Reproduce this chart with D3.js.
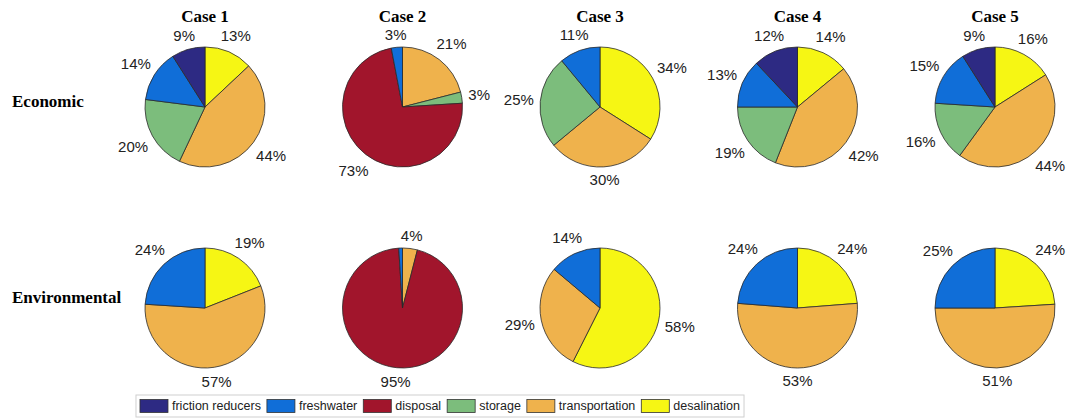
<!DOCTYPE html>
<html lang="en">
<head>
  <meta charset="utf-8" />
  <title>Pie charts by case</title>
  <style>
    body { margin: 0; background: #fff; }
    svg { display: block; }
  </style>
</head>
<body>
<script src="https://cdn.jsdelivr.net/npm/d3@7"></script>
<script>
  // Data
  var cases = ["Case 1", "Case 2", "Case 3", "Case 4", "Case 5"];
  var rows = ["Economic", "Environmental"];
  var categories = ["friction reducers", "freshwater", "disposal", "storage", "transportation", "desalination"];
  var colors = ["#2d2a83", "#106ed8", "#a1152c", "#7cbd7c", "#efb24c", "#f6f614"];

  // shares (%) per case, in category order
  var economic = [
    [9, 14, 0, 20, 44, 13],
    [0, 3, 73, 3, 21, 0],
    [0, 11, 0, 25, 30, 34],
    [12, 13, 0, 19, 42, 14],
    [9, 15, 0, 16, 44, 16]
  ];
  var environmental = [
    [0, 24, 0, 0, 57, 19],
    [0, 1, 95, 0, 4, 0],
    [0, 14, 0, 0, 29, 58],
    [0, 24, 0, 0, 53, 24],
    [0, 25, 0, 0, 51, 24]
  ];

  const width = 1070, height = 418;
  const radius = 60;

  var svg = d3.select("body").append("svg")
      .attr("width", width)
      .attr("height", height);

  let xScale = d3.scalePoint(cases, [205, 995]);
  let yScale = d3.scalePoint(rows, [107, 308]);
  let color = d3.scaleOrdinal(categories, colors);

  // slices go clockwise from 12 o'clock starting with the last category
  let pie = d3.pie().sort(null).value(d => d.value);
  let arc = d3.arc().innerRadius(0).outerRadius(radius);

  function drawPie(row, ci, values) {
    let items = categories.map((c, i) => ({cat: c, value: values[i]})).reverse()
        .filter(d => d.value > 0);
    let g = svg.append("g")
        .attr("transform", `translate(${xScale(cases[ci])}, ${yScale(row)})`);

    g.selectAll("path")
      .data(pie(items))
      .join("path")
      .attr("d", arc)
      .attr("fill", d => color(d.data.cat))
      .attr("stroke", "#2a2a2a")
      .attr("stroke-width", 0.8);

    // tiny slices (<2%) are left unlabelled, as in the original
    g.selectAll("text")
      .data(pie(items).filter(d => d.data.value >= 2))
      .join("text")
      .attr("font-family", "Liberation Sans, Arial, sans-serif")
      .attr("font-size", 15)
      .attr("fill", "#222")
      .attr("text-anchor", "middle")
      .attr("dominant-baseline", "central")
      .text(d => Math.round(d.data.value) + "%")
      .each(function (d) {
        let a = (d.startAngle + d.endAngle) / 2;
        let w = this.getComputedTextLength();
        let h = 12;
        let sx = Math.sin(a), sy = -Math.cos(a);
        let dist = radius * 1.1 + Math.abs(sx) * w / 2 + Math.abs(sy) * h / 2;
        d3.select(this).attr("x", sx * dist).attr("y", sy * dist);
      });
  }

  cases.forEach((c, i) => {
    drawPie("Economic", i, economic[i]);
    drawPie("Environmental", i, environmental[i]);
  });

  // case titles
  svg.append("g")
    .selectAll("text")
    .data(cases)
    .join("text")
    .attr("x", d => xScale(d))
    .attr("y", 22)
    .attr("text-anchor", "middle")
    .attr("font-family", "Liberation Serif, Times New Roman, serif")
    .attr("font-weight", "bold")
    .attr("font-size", 17)
    .text(d => d);

  // row labels
  svg.append("g")
    .selectAll("text")
    .data(rows)
    .join("text")
    .attr("x", 12)
    .attr("y", d => yScale(d) - (d === "Economic" ? 6 : 11))
    .attr("dominant-baseline", "central")
    .attr("font-family", "Liberation Serif, Times New Roman, serif")
    .attr("font-weight", "bold")
    .attr("font-size", 17)
    .text(d => d);

  // legend
  let legend = svg.append("g");
  let legendBox = legend.append("rect")
      .attr("fill", "#fff")
      .attr("stroke", "#cfcfcf")
      .attr("stroke-width", 1);
  let lx = 0;
  let ly = 406;
  let items = legend.selectAll("g.item")
      .data(categories)
      .join("g")
      .attr("class", "item");
  items.each(function (d) {
    let it = d3.select(this);
    it.append("rect")
      .attr("x", lx).attr("y", ly - 6.5)
      .attr("width", 28).attr("height", 13)
      .attr("fill", color(d))
      .attr("stroke", "#333")
      .attr("stroke-width", 0.8);
    let t = it.append("text")
      .attr("x", lx + 32).attr("y", ly)
      .attr("dominant-baseline", "central")
      .attr("font-family", "Liberation Sans, Arial, sans-serif")
      .attr("font-size", 12.5)
      .attr("fill", "#222")
      .text(d);
    lx += 32 + t.node().getComputedTextLength() + 6;
  });
  let totalW = lx - 6;
  let offset = 440 - totalW / 2;
  items.attr("transform", `translate(${offset}, 0)`);
  legendBox
    .attr("x", offset - 4).attr("y", ly - 11)
    .attr("width", totalW + 8).attr("height", 22);
</script>
</body>
</html>
